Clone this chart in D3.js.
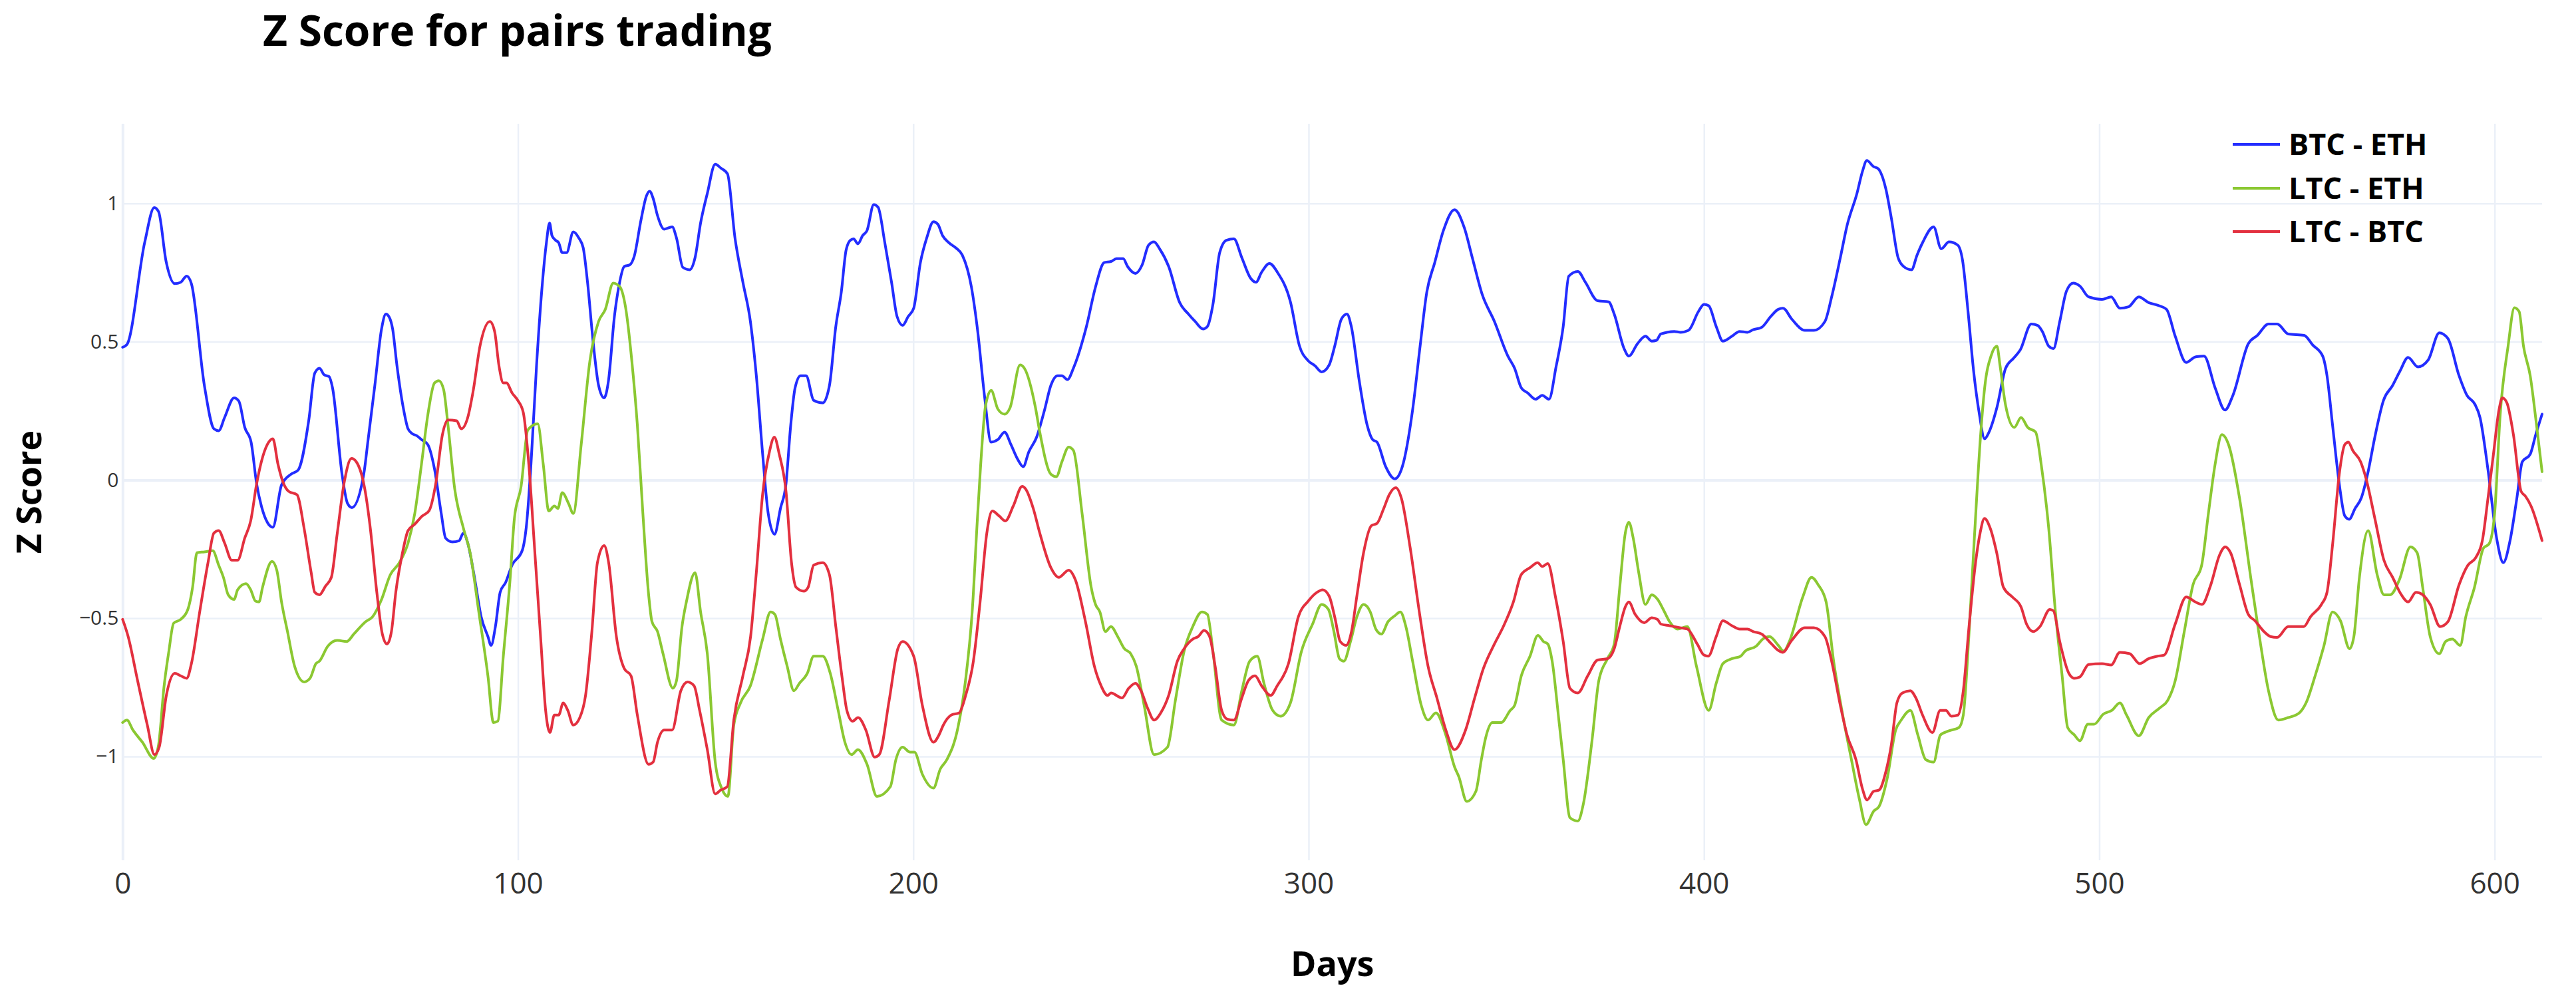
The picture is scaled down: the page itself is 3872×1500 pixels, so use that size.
<!DOCTYPE html>
<html><head><meta charset="utf-8">
<script src="https://cdn.jsdelivr.net/npm/d3@7"></script>
<style>html,body{margin:0;padding:0;background:#fff;}svg{display:block;font-family:"Open Sans",sans-serif;}</style>
</head><body><svg id="chart" width="3872" height="1500"></svg>
<script>
const chartTitle = "Z Score for pairs trading";
const xTitle = "Days";
const yTitle = "Z Score";
const xTicks = [0,100,200,300,400,500,600];
const yTicks = [-1,-0.5,0,0.5,1];
const seriesNames = ["BTC - ETH","LTC - ETH","LTC - BTC"];
const seriesColors = ["#232dff","#8bc832","#e3303f"];

// [day, z-score]
const btcEth = [[0,0.48],[1.1,0.49],[5.6,0.86],[8,0.985],[9.1,0.97],[11,0.79],[13.2,0.71],[14.7,0.715],[16.2,0.737],[17.4,0.71],[20.7,0.34],[23.1,0.185],[24.3,0.178],[25.8,0.226],[28.2,0.297],[29.4,0.285],[30.9,0.19],[32.5,0.137],[33.9,-0.014],[35.1,-0.094],[36.6,-0.153],[38,-0.171],[40.2,-0.018],[42.6,0.021],[44.4,0.036],[47.1,0.217],[48.6,0.386],[49.8,0.404],[51,0.38],[52.2,0.374],[53.1,0.333],[55.5,0.021],[56.9,-0.085],[58,-0.1],[61,0.021],[62.1,0.146],[63.8,0.342],[65.5,0.546],[66.6,0.6],[67.4,0.59],[68.3,0.546],[69.4,0.413],[71.1,0.253],[72.2,0.185],[73.3,0.167],[74.4,0.16],[75.6,0.146],[77.2,0.128],[78.9,0.039],[80.6,-0.121],[81.7,-0.21],[83.4,-0.224],[85.1,-0.22],[86.2,-0.192],[87.3,-0.228],[89,-0.352],[90.7,-0.495],[92.4,-0.566],[93.2,-0.598],[94.3,-0.53],[95.5,-0.406],[96.9,-0.37],[98.5,-0.308],[101.1,-0.254],[102.2,-0.157],[103.3,0.057],[104.7,0.413],[106.1,0.698],[107.2,0.858],[108,0.929],[108.6,0.884],[109.5,0.867],[110.3,0.858],[111.2,0.822],[112.3,0.822],[114,0.897],[115.4,0.875],[116.5,0.84],[117.6,0.715],[119,0.502],[120.4,0.342],[121.8,0.297],[122.9,0.359],[124.4,0.591],[125.5,0.698],[126.9,0.772],[128.3,0.778],[129.4,0.808],[131.1,0.938],[132.5,1.027],[133.3,1.044],[134.2,1.018],[135.3,0.956],[137,0.907],[139,0.915],[140.1,0.875],[141.7,0.769],[143.4,0.76],[144.8,0.804],[146.2,0.929],[147.9,1.036],[149.9,1.142],[151.3,1.128],[153,1.107],[154.9,0.875],[156.9,0.715],[158.8,0.573],[160.3,0.377],[161.9,0.093],[163.3,-0.121],[164.9,-0.196],[166.4,-0.103],[167.8,-0.014],[169,0.199],[170.1,0.333],[171.5,0.377],[172.9,0.377],[174.8,0.288],[177.1,0.279],[178.8,0.342],[180.4,0.555],[181.8,0.68],[183,0.831],[184.1,0.867],[184.9,0.872],[186,0.854],[187.2,0.884],[188.3,0.902],[190,0.996],[191.1,0.986],[192.8,0.858],[194.5,0.715],[195.9,0.591],[197.3,0.559],[198.7,0.591],[200.1,0.621],[201.8,0.786],[203.4,0.875],[205.1,0.934],[206.2,0.925],[207.4,0.884],[209,0.858],[210.7,0.84],[212.4,0.813],[214.7,0.698],[216.3,0.537],[218,0.306],[219.7,0.137],[221.4,0.146],[223.1,0.173],[224.7,0.128],[226.4,0.075],[227.8,0.048],[229.2,0.101],[231.2,0.155],[233.2,0.253],[234.8,0.342],[236.5,0.377],[237.6,0.377],[239,0.363],[240.5,0.404],[243.8,0.555],[246.1,0.698],[248.3,0.786],[250,0.79],[251.4,0.8],[253.1,0.8],[254.2,0.772],[256.2,0.747],[257.9,0.778],[259.5,0.849],[260.9,0.861],[262.3,0.836],[264.6,0.772],[267.4,0.641],[269.6,0.6],[271.3,0.573],[273.3,0.546],[274.4,0.555],[275.8,0.635],[277.5,0.822],[279.2,0.867],[281.1,0.872],[283.1,0.804],[285.3,0.73],[286.7,0.715],[288.1,0.751],[290.1,0.783],[292.1,0.751],[295.4,0.644],[297.7,0.484],[299.9,0.431],[301.6,0.413],[303.3,0.391],[305.2,0.416],[306.6,0.484],[308.3,0.582],[309.7,0.6],[310.8,0.555],[312.8,0.359],[314.8,0.199],[316.2,0.146],[317.3,0.137],[319.5,0.048],[321.8,0.004],[323.7,0.048],[326.3,0.253],[328.2,0.484],[329.9,0.68],[331.9,0.786],[334.1,0.902],[336.9,0.977],[339.4,0.911],[341.4,0.804],[343.9,0.671],[347,0.573],[350.4,0.448],[352.1,0.404],[353.8,0.333],[355.4,0.315],[357.4,0.292],[359.1,0.306],[360.8,0.292],[362.6,0.41],[364.4,0.555],[365.8,0.737],[368.1,0.754],[370,0.715],[373.1,0.648],[375.9,0.644],[377.3,0.6],[379.8,0.475],[381,0.448],[383.2,0.493],[385.2,0.52],[386.8,0.502],[388,0.505],[389.1,0.528],[392.5,0.537],[394.1,0.534],[396.1,0.541],[398.6,0.609],[400,0.635],[401.2,0.63],[403.1,0.555],[404.8,0.502],[407.1,0.52],[409,0.537],[411,0.534],[412.4,0.543],[414.6,0.552],[416.9,0.591],[418.8,0.617],[420,0.621],[422.2,0.582],[425.5,0.541],[427.8,0.541],[430.6,0.573],[432.3,0.662],[434.5,0.804],[436.2,0.92],[438.7,1.036],[440.1,1.116],[441.2,1.155],[442.9,1.133],[444.1,1.125],[446,1.053],[447.4,0.947],[449.1,0.804],[450.5,0.772],[452.5,0.76],[453.9,0.813],[455.3,0.858],[458.1,0.915],[460,0.836],[462,0.861],[464.2,0.849],[465.4,0.795],[466.8,0.609],[468.2,0.395],[469.6,0.244],[471,0.149],[472.1,0.173],[474.1,0.262],[476.3,0.404],[478.3,0.44],[480,0.47],[482.8,0.564],[484.4,0.559],[485.6,0.537],[487.2,0.484],[488.4,0.475],[490,0.573],[491.7,0.683],[493.4,0.712],[495.1,0.701],[497.3,0.662],[500.7,0.653],[503,0.662],[505.2,0.621],[507.4,0.626],[510,0.662],[512.5,0.641],[514.7,0.632],[517,0.617],[519.2,0.52],[522,0.425],[524.3,0.445],[526.5,0.448],[529.3,0.333],[531.8,0.253],[533.8,0.306],[537.7,0.493],[540,0.523],[542.8,0.564],[545,0.564],[547.8,0.528],[551.8,0.523],[554,0.488],[556.5,0.448],[557.6,0.377],[559,0.199],[560.7,-0.014],[562.1,-0.13],[563.2,-0.142],[564.7,-0.103],[566.3,-0.064],[568,0.03],[569.7,0.155],[571.9,0.288],[574.2,0.342],[576.1,0.395],[578.1,0.443],[580.6,0.409],[583.2,0.434],[586,0.532],[588.2,0.511],[591,0.377],[593,0.306],[595,0.274],[596.3,0.226],[598.3,0.039],[600.5,-0.21],[602.2,-0.299],[603.9,-0.219],[605.6,-0.068],[607,0.066],[609,0.093],[610.4,0.164],[612,0.238]];

const ltcEth = [[0,-0.877],[1.1,-0.868],[2.6,-0.904],[5,-0.948],[7.9,-1.007],[9.1,-0.957],[10.5,-0.744],[11.7,-0.619],[12.9,-0.518],[14.7,-0.504],[16.5,-0.468],[17.7,-0.388],[18.8,-0.263],[20.7,-0.26],[22.8,-0.256],[24.3,-0.308],[25.5,-0.352],[26.7,-0.415],[28.2,-0.432],[29.1,-0.397],[31.2,-0.375],[32.4,-0.397],[33.6,-0.438],[34.5,-0.441],[35.4,-0.388],[37.8,-0.294],[39,-0.326],[40.2,-0.441],[41.7,-0.548],[43.5,-0.673],[45.9,-0.73],[47.4,-0.717],[48.9,-0.664],[49.8,-0.655],[51.9,-0.601],[54.3,-0.58],[56.7,-0.584],[58.5,-0.557],[61.5,-0.512],[63.2,-0.495],[65.5,-0.432],[67.7,-0.343],[70,-0.299],[72.2,-0.228],[73.9,-0.121],[75.6,0.057],[77.2,0.235],[78.9,0.351],[80,0.359],[81.2,0.327],[82.3,0.199],[84,-0.032],[86.2,-0.174],[87.9,-0.263],[90.1,-0.477],[92.4,-0.708],[93.8,-0.877],[94.9,-0.872],[96.3,-0.637],[98,-0.361],[99.1,-0.139],[100.8,-0.023],[102.5,0.181],[105,0.203],[106.4,0.057],[107.8,-0.112],[109.2,-0.094],[110.1,-0.103],[111.2,-0.046],[112.8,-0.085],[114,-0.121],[116,0.128],[118.2,0.431],[120.4,0.573],[122.1,0.617],[124.1,0.712],[125.8,0.698],[127.2,0.626],[128.8,0.431],[130.2,0.199],[131.6,-0.121],[133,-0.406],[133.9,-0.512],[135.3,-0.548],[136.7,-0.628],[139.2,-0.753],[140.1,-0.726],[141.5,-0.53],[142.6,-0.441],[144.8,-0.335],[146.2,-0.477],[147.9,-0.628],[149.9,-1.02],[151.6,-1.117],[153.1,-1.144],[154.6,-0.886],[156.3,-0.806],[158.8,-0.744],[161.9,-0.575],[163.9,-0.477],[165,-0.486],[166.4,-0.575],[168.1,-0.673],[169.8,-0.762],[171.2,-0.735],[173.2,-0.699],[174.8,-0.637],[177.1,-0.637],[179,-0.699],[181,-0.833],[182.7,-0.948],[184.4,-0.993],[186,-0.975],[188.3,-1.028],[190.8,-1.144],[194.2,-1.109],[195.6,-1.011],[197.3,-0.966],[199.2,-0.984],[200.3,-0.984],[202.3,-1.064],[205.1,-1.114],[206.8,-1.046],[208.5,-1.011],[211.3,-0.895],[213.2,-0.726],[214.9,-0.477],[216.3,-0.121],[218.3,0.27],[219.7,0.324],[221.4,0.256],[223.1,0.238],[224.5,0.262],[227,0.416],[228.1,0.404],[230.9,0.262],[232,0.173],[234.8,0.021],[236.2,0.012],[237.6,0.066],[239.3,0.119],[240.5,0.107],[242.7,-0.121],[245,-0.388],[246.1,-0.45],[247.2,-0.477],[248.6,-0.548],[250,-0.53],[251.7,-0.566],[253.4,-0.61],[255,-0.628],[256.4,-0.673],[258.4,-0.815],[260.9,-0.993],[264.3,-0.966],[266.3,-0.797],[268.5,-0.619],[270.7,-0.53],[273,-0.477],[274.4,-0.486],[275.8,-0.619],[278,-0.868],[281.1,-0.886],[283.1,-0.762],[285.1,-0.655],[287,-0.637],[288.7,-0.735],[290.9,-0.833],[292.9,-0.854],[295.4,-0.806],[298.2,-0.619],[301,-0.521],[303.3,-0.45],[305,-0.468],[306.4,-0.548],[307.8,-0.646],[308.9,-0.655],[310.6,-0.584],[312.2,-0.495],[313.9,-0.45],[315.6,-0.477],[317,-0.539],[318.4,-0.557],[320.1,-0.512],[321.8,-0.491],[323.2,-0.477],[324.6,-0.53],[326.3,-0.655],[328.5,-0.815],[330.2,-0.868],[332.2,-0.842],[334.7,-0.922],[336.9,-1.037],[338,-1.073],[340,-1.162],[342.3,-1.126],[343.7,-1.011],[344.8,-0.931],[346.5,-0.877],[348.7,-0.877],[351,-0.833],[352.1,-0.815],[353.8,-0.708],[356,-0.637],[358,-0.562],[359.4,-0.584],[360.5,-0.593],[361.6,-0.655],[363.3,-0.868],[364.4,-1.011],[366.1,-1.221],[368.1,-1.233],[369.5,-1.171],[371.7,-0.94],[373.4,-0.726],[375.6,-0.646],[377.3,-0.593],[378.7,-0.388],[380.1,-0.192],[381,-0.153],[382.1,-0.21],[383.5,-0.335],[385.2,-0.45],[386.8,-0.415],[388.3,-0.432],[389.7,-0.468],[391.3,-0.512],[393.3,-0.539],[395.8,-0.53],[398.1,-0.673],[401.2,-0.833],[403.1,-0.735],[404.8,-0.664],[407.1,-0.646],[409.3,-0.637],[410.4,-0.619],[413.2,-0.601],[414.9,-0.575],[416.6,-0.566],[418.8,-0.598],[420.2,-0.619],[421.6,-0.584],[425,-0.423],[427.2,-0.352],[428.9,-0.379],[430.9,-0.441],[432.8,-0.655],[435.1,-0.85],[437.3,-1.011],[439.3,-1.153],[441,-1.246],[442.9,-1.198],[444.3,-1.18],[446.3,-1.082],[448.5,-0.904],[449.9,-0.868],[452.2,-0.833],[454.1,-0.922],[456.1,-1.011],[458.1,-1.02],[459.8,-0.922],[462,-0.907],[464.5,-0.895],[465.6,-0.85],[467,-0.566],[468.4,-0.21],[469.9,0.146],[471,0.333],[472.7,0.452],[474.1,0.484],[474.9,0.413],[476.3,0.27],[478.5,0.19],[480.2,0.226],[481.9,0.19],[483.9,0.173],[485.3,0.057],[487.2,-0.174],[488.9,-0.477],[490.6,-0.708],[492,-0.895],[493.7,-0.922],[495.1,-0.943],[497.1,-0.883],[498.7,-0.883],[501,-0.847],[503.2,-0.833],[505.2,-0.806],[506.9,-0.85],[510,-0.925],[512.5,-0.859],[515.3,-0.824],[517.3,-0.797],[519.2,-0.726],[521.5,-0.548],[523.7,-0.379],[525.9,-0.308],[527.6,-0.121],[529.3,0.057],[531,0.164],[532.7,0.128],[535.5,-0.068],[538.3,-0.352],[540.5,-0.566],[542.8,-0.762],[545.3,-0.868],[547.8,-0.859],[550.6,-0.842],[552.3,-0.806],[554.6,-0.708],[556.8,-0.601],[559,-0.477],[561,-0.509],[563.3,-0.61],[564.4,-0.566],[565.8,-0.352],[568,-0.183],[570.3,-0.343],[572,-0.415],[573.6,-0.415],[575.9,-0.361],[578.7,-0.242],[580.4,-0.263],[581.8,-0.388],[583.7,-0.566],[586,-0.628],[587.6,-0.584],[589.3,-0.575],[591.3,-0.598],[592.7,-0.495],[594.9,-0.388],[597.2,-0.246],[598.6,-0.231],[600,-0.121],[601.4,0.235],[603.4,0.484],[605,0.623],[606.2,0.609],[607.3,0.484],[609,0.377],[610.6,0.199],[612,0.03]];

const ltcBtc = [[0,-0.504],[1.4,-0.566],[3.8,-0.726],[6.25,-0.886],[8.05,-0.993],[9.25,-0.966],[11.06,-0.779],[13.2,-0.699],[14.7,-0.708],[16.2,-0.717],[17.4,-0.664],[19.5,-0.477],[21.6,-0.299],[23.1,-0.192],[24.3,-0.183],[25.8,-0.228],[27.6,-0.29],[29.1,-0.29],[30.9,-0.21],[32.4,-0.148],[33.9,-0.014],[35.1,0.066],[36.6,0.128],[38,0.149],[39.3,0.057],[40.5,-0.005],[42,-0.041],[44.1,-0.053],[45.9,-0.174],[47.7,-0.335],[48.6,-0.406],[49.8,-0.415],[51.3,-0.384],[52.8,-0.352],[54.3,-0.192],[56.1,-0.005],[57.9,0.078],[59.1,0.066],[61.25,-0.032],[62.65,-0.174],[64.3,-0.406],[65.7,-0.557],[66.9,-0.593],[68,-0.548],[69.1,-0.406],[70.8,-0.263],[72.2,-0.183],[73.9,-0.16],[75.8,-0.13],[77.5,-0.112],[79.2,-0.014],[80.9,0.164],[82.3,0.217],[84.5,0.214],[85.65,0.185],[87.3,0.226],[88.7,0.324],[90.4,0.484],[92.9,0.573],[94.1,0.537],[95.2,0.413],[96.3,0.351],[97.1,0.351],[98.5,0.315],[99.95,0.288],[101.35,0.244],[102.75,0.057],[104.2,-0.246],[105.8,-0.584],[107,-0.833],[108.1,-0.913],[109.2,-0.85],[110.3,-0.85],[111.45,-0.806],[112.6,-0.833],[114,-0.886],[115.65,-0.859],[117.1,-0.779],[118.7,-0.548],[120.1,-0.299],[121.8,-0.237],[122.95,-0.299],[124.9,-0.566],[126.9,-0.682],[128.6,-0.708],[130.2,-0.85],[133.05,-1.028],[134.2,-1.02],[135.3,-0.948],[137,-0.904],[139,-0.904],[141.2,-0.762],[142.9,-0.73],[144.55,-0.744],[145.95,-0.833],[147.9,-0.975],[149.9,-1.135],[151.3,-1.121],[152.95,-1.109],[154.6,-0.868],[156.9,-0.708],[158.85,-0.566],[160.25,-0.343],[161.9,-0.05],[163.6,0.101],[164.85,0.155],[166.1,0.093],[167.8,-0.041],[169.2,-0.299],[170.35,-0.388],[172.3,-0.402],[173.4,-0.388],[174.8,-0.308],[177.1,-0.299],[178.8,-0.343],[180.4,-0.53],[182.1,-0.726],[183.2,-0.833],[184.65,-0.872],[186.05,-0.859],[188,-0.904],[190.25,-1.002],[191.4,-0.993],[193.9,-0.797],[196.1,-0.61],[197.3,-0.584],[200.1,-0.637],[202.3,-0.815],[205.1,-0.948],[206.5,-0.922],[207.6,-0.886],[209.6,-0.85],[211.6,-0.842],[213.25,-0.779],[215.2,-0.655],[216.9,-0.441],[218.6,-0.192],[220,-0.112],[221.7,-0.13],[223.3,-0.148],[225.3,-0.094],[227.55,-0.023],[228.4,-0.032],[230.35,-0.103],[232,-0.192],[234.8,-0.317],[236.8,-0.352],[239.3,-0.326],[241,-0.361],[243.55,-0.512],[245.8,-0.673],[247.5,-0.744],[249.15,-0.779],[250,-0.77],[252.8,-0.788],[254.5,-0.753],[256.2,-0.735],[257.6,-0.762],[259.25,-0.824],[260.9,-0.868],[262.6,-0.842],[264.6,-0.779],[266.8,-0.655],[268.5,-0.61],[270.75,-0.575],[272.1,-0.566],[273.55,-0.544],[274.95,-0.566],[276.35,-0.673],[278,-0.833],[279.45,-0.865],[281.1,-0.868],[283.1,-0.788],[284.75,-0.726],[286.45,-0.708],[288.1,-0.744],[290.4,-0.779],[292.05,-0.744],[294.9,-0.664],[297.4,-0.495],[299.9,-0.438],[302.15,-0.406],[303.55,-0.397],[305.2,-0.42],[306.6,-0.495],[308,-0.584],[309.45,-0.598],[310.85,-0.548],[312.25,-0.415],[313.9,-0.263],[315.9,-0.165],[317.3,-0.157],[319,-0.103],[320.4,-0.053],[322.05,-0.028],[323.5,-0.068],[325.7,-0.246],[328,-0.477],[330.2,-0.673],[332.45,-0.788],[334.7,-0.904],[336.9,-0.975],[339.7,-0.904],[342,-0.788],[344.2,-0.682],[347,-0.593],[349.25,-0.53],[351.8,-0.441],[353.75,-0.343],[356,-0.317],[357.95,-0.299],[359.1,-0.313],[360.5,-0.302],[362.4,-0.42],[364.4,-0.584],[366.1,-0.753],[368.1,-0.77],[370.6,-0.708],[373.1,-0.651],[375.6,-0.646],[377.3,-0.61],[378.7,-0.53],[380.1,-0.459],[381,-0.441],[382.6,-0.486],[384.9,-0.516],[386.8,-0.498],[388.25,-0.504],[389.1,-0.521],[391.3,-0.527],[393.9,-0.534],[395.8,-0.539],[398.3,-0.593],[400,-0.633],[401.1,-0.637],[403.1,-0.566],[404.8,-0.509],[407.1,-0.527],[409,-0.539],[411,-0.539],[412.4,-0.548],[414.6,-0.557],[417.1,-0.593],[418.8,-0.616],[419.9,-0.623],[422.2,-0.58],[425.5,-0.534],[427.8,-0.534],[430.6,-0.566],[432.3,-0.655],[434.5,-0.815],[436.2,-0.922],[438.45,-1.011],[440.1,-1.117],[441.25,-1.157],[442.9,-1.126],[444.3,-1.121],[446,-1.055],[447.4,-0.957],[448.8,-0.806],[450.2,-0.77],[452.2,-0.762],[453.6,-0.788],[455.3,-0.85],[457.8,-0.913],[459.75,-0.833],[461.2,-0.833],[462.55,-0.854],[464.25,-0.85],[465.6,-0.762],[467.05,-0.53],[468.7,-0.299],[469.85,-0.192],[470.95,-0.139],[472.4,-0.174],[474.05,-0.263],[475.75,-0.388],[478,-0.423],[480.2,-0.459],[481.6,-0.521],[483.3,-0.548],[485,-0.53],[487.5,-0.468],[488.4,-0.473],[490,-0.584],[492.3,-0.699],[493.7,-0.717],[495.1,-0.712],[497.3,-0.667],[500.7,-0.664],[503,-0.669],[505.2,-0.623],[507.7,-0.628],[510.2,-0.664],[512.5,-0.646],[514.7,-0.637],[516.4,-0.633],[519.2,-0.521],[522,-0.423],[524.3,-0.441],[525.95,-0.45],[528.2,-0.379],[530.4,-0.272],[531.85,-0.242],[533.2,-0.263],[535.5,-0.379],[537.7,-0.486],[539.4,-0.509],[541.65,-0.548],[543.3,-0.566],[545,-0.569],[547.8,-0.53],[551.75,-0.53],[553.4,-0.495],[556.2,-0.45],[557.6,-0.406],[559.05,-0.228],[560.7,0.021],[562.1,0.128],[563,0.137],[564.1,0.107],[566.1,0.066],[567.5,0.004],[569.7,-0.139],[572,-0.29],[574.2,-0.352],[576.4,-0.415],[578.1,-0.441],[580.1,-0.406],[581.8,-0.415],[583.7,-0.45],[586.2,-0.53],[588.2,-0.512],[591,-0.379],[593.25,-0.308],[595.2,-0.281],[596.9,-0.219],[598.3,-0.068],[599.7,0.093],[601.1,0.253],[601.95,0.297],[603.1,0.279],[604.75,0.164],[606.7,-0.041],[607.8,-0.059],[609.2,-0.094],[612,-0.219]];

const seriesData = [btcEth, ltcEth, ltcBtc];

const svg = d3.select("#chart");
const plot = {left:184.3, right:3821, top:186, bottom:1293};
const x = d3.scaleLinear().domain([0,612]).range([plot.left, plot.right]);
const y = d3.scaleLinear().domain([-1.375,1.288]).range([plot.bottom, plot.top]);
const gridColor = "#ebf0f8";

svg.append("rect").attr("width",3872).attr("height",1500).attr("fill","#fff");

// x axis + vertical grid
const gx = svg.append("g").attr("transform",`translate(0,${plot.bottom})`)
  .call(d3.axisBottom(x).tickValues(xTicks).tickSize(-(plot.bottom-plot.top)).tickPadding(19).tickFormat(d3.format("d")));
gx.select(".domain").remove();
gx.selectAll(".tick line").attr("stroke",gridColor).attr("stroke-width",d=>d===0?4:2.5);
gx.selectAll(".tick text").attr("font-size",44).attr("fill","#333").attr("font-family","Open Sans");

// y axis + horizontal grid
const fmtY = d => (d<0 ? "\u2212" : "") + Math.abs(d);
const gy = svg.append("g").attr("transform",`translate(${plot.left},0)`)
  .call(d3.axisLeft(y).tickValues(yTicks).tickSize(-(plot.right-plot.left)).tickPadding(6).tickFormat(fmtY));
gy.select(".domain").remove();
gy.selectAll(".tick line").attr("stroke",gridColor).attr("stroke-width",d=>d===0?4:2.5);
gy.selectAll(".tick text").attr("font-size",30).attr("fill","#333").attr("font-family","Open Sans");

// lines
const line = d3.line().x(d=>x(d[0])).y(d=>y(d[1])).curve(d3.curveMonotoneX);
const gl = svg.append("g");
seriesData.forEach((s,i)=>{
  gl.append("path").datum(s).attr("d",line).attr("fill","none")
    .attr("stroke",seriesColors[i]).attr("stroke-width",4)
    .attr("stroke-linejoin","round").attr("stroke-linecap","round");
});

// title
svg.append("text").attr("x",395).attr("y",69).attr("font-size",64).attr("font-weight",700)
  .attr("fill","#000").text(chartTitle);

// axis titles
svg.append("text").attr("x",(plot.left+plot.right)/2).attr("y",1467).attr("text-anchor","middle")
  .attr("font-size",52).attr("font-weight",700).attr("fill","#000").text(xTitle);
svg.append("text").attr("transform",`translate(62,${(plot.top+plot.bottom)/2}) rotate(-90)`)
  .attr("text-anchor","middle").attr("font-size",52).attr("font-weight",700).attr("fill","#000").text(yTitle);

// legend
const legRows = [217,283,348];
const lg = svg.append("g");
seriesNames.forEach((n,i)=>{
  lg.append("line").attr("x1",3356).attr("x2",3427).attr("y1",legRows[i]).attr("y2",legRows[i])
    .attr("stroke",seriesColors[i]).attr("stroke-width",4);
  lg.append("text").attr("x",3440).attr("y",legRows[i]+16).attr("font-size",45).attr("font-weight",700)
    .attr("fill","#000").text(n);
});
</script></body></html>
